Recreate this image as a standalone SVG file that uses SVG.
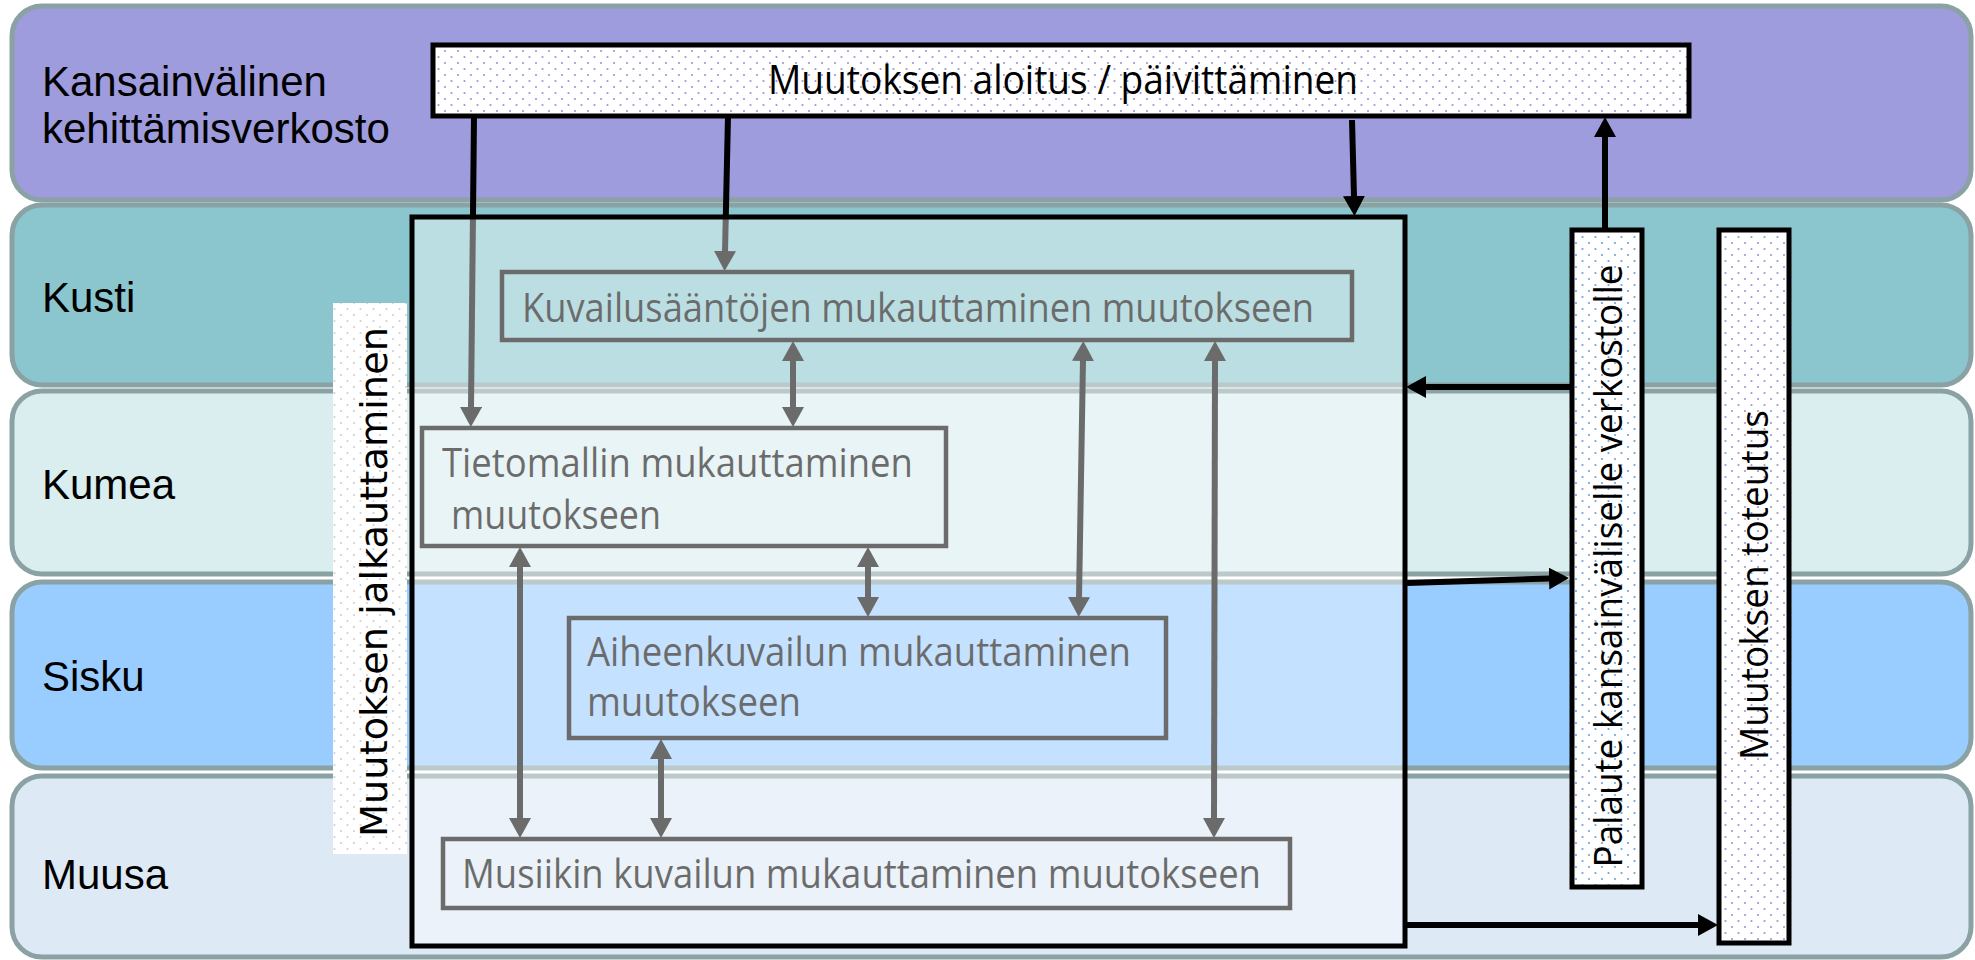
<svg xmlns="http://www.w3.org/2000/svg" width="1975" height="960" viewBox="0 0 1975 960">
<style>
.lane{stroke:#8AA2A4;stroke-width:5}
.lbl{font-family:"Liberation Sans",Arial,sans-serif;font-size:42px;fill:#000}
.cal{font-family:"Open Sans","Noto Sans",sans-serif;font-size:40px;fill:#000}
.vt{font-family:"Open Sans","Noto Sans",sans-serif;font-size:38px;fill:#000}
.inner{fill:none;stroke:#000;stroke-width:4.5}
.bk{fill:none;stroke:#000;stroke-width:6}
.gy{fill:none;stroke:#000;stroke-width:6}
.outer{stroke:#000;stroke-width:5}
</style>
<defs>
<pattern id="dotsPurple" width="13" height="12" patternUnits="userSpaceOnUse"><rect width="13" height="12" fill="#fff"/><circle cx="3" cy="3" r="1.1" fill="#9A98D6"/><circle cx="9.5" cy="9" r="1.1" fill="#9A98D6"/></pattern>
<pattern id="dotsBlue" width="13" height="12" patternUnits="userSpaceOnUse"><rect width="13" height="12" fill="#fff"/><circle cx="3" cy="3" r="1.1" fill="#6FA3DA"/><circle cx="9.5" cy="9" r="1.1" fill="#6FA3DA"/></pattern>
<pattern id="dotsGray" width="13" height="12" patternUnits="userSpaceOnUse"><rect width="13" height="12" fill="#fff"/><circle cx="3" cy="3" r="1.1" fill="#D0D0D0"/><circle cx="9.5" cy="9" r="1.1" fill="#D0D0D0"/></pattern>
<marker id="ah" viewBox="0 0 20 22" markerWidth="20" markerHeight="22" refX="1" refY="11" orient="auto-start-reverse" markerUnits="userSpaceOnUse"><path d="M0,0 L20,11 L0,22 z" fill="#000"/></marker>
</defs>

<g id="lanes">
<g id="lane-kansainvalinen"><rect class="lane" x="12" y="6" width="1959" height="194" rx="30" fill="#9E9CDC"/><text class="lbl" x="42" y="96">Kansainvälinen</text><text class="lbl" x="42" y="143">kehittämisverkosto</text></g>
<g id="lane-kusti"><rect class="lane" x="12" y="205" width="1959" height="180" rx="30" fill="#8BC6CE"/><text class="lbl" x="42" y="312">Kusti</text></g>
<g id="lane-kumea"><rect class="lane" x="12" y="391" width="1959" height="183" rx="30" fill="#DAEDEF"/><text class="lbl" x="42" y="499">Kumea</text></g>
<g id="lane-sisku"><rect class="lane" x="12" y="582" width="1959" height="186" rx="30" fill="#99CCFF"/><text class="lbl" x="42" y="691">Sisku</text></g>
<g id="lane-muusa"><rect class="lane" x="12" y="776" width="1959" height="181" rx="30" fill="#DDE9F5"/><text class="lbl" x="42" y="889">Muusa</text></g>
</g>

<g id="node-kuvailu"><rect class="inner" x="502" y="272" width="850" height="68"/><text class="cal" x="522" y="322" textLength="792" lengthAdjust="spacingAndGlyphs">Kuvailusääntöjen mukauttaminen muutokseen</text></g>
<g id="node-tietomalli"><rect class="inner" x="422" y="428" width="524" height="118"/><text class="cal" x="442" y="477" textLength="471" lengthAdjust="spacingAndGlyphs">Tietomallin mukauttaminen</text><text class="cal" x="451" y="529" textLength="210" lengthAdjust="spacingAndGlyphs">muutokseen</text></g>
<g id="node-aiheenkuvailu"><rect class="inner" x="569" y="618" width="597" height="120"/><text class="cal" x="587" y="666" textLength="544" lengthAdjust="spacingAndGlyphs">Aiheenkuvailun mukauttaminen</text><text class="cal" x="587" y="716" textLength="214" lengthAdjust="spacingAndGlyphs">muutokseen</text></g>
<g id="node-musiikki"><rect class="inner" x="443" y="839" width="847" height="69"/><text class="cal" x="462" y="888" textLength="799" lengthAdjust="spacingAndGlyphs">Musiikin kuvailun mukauttaminen muutokseen</text></g>

<g id="connectors">
<path class="bk" d="M474,116 L471,408" marker-end="url(#ah)"/>
<path class="bk" d="M728,116 L725,252" marker-end="url(#ah)"/>
<path class="gy" d="M793,360 L793,408" marker-start="url(#ah)" marker-end="url(#ah)"/>
<path class="gy" d="M1083,360 L1079,598" marker-start="url(#ah)" marker-end="url(#ah)"/>
<path class="gy" d="M1215,360 L1214,819" marker-start="url(#ah)" marker-end="url(#ah)"/>
<path class="gy" d="M868,566 L868,598" marker-start="url(#ah)" marker-end="url(#ah)"/>
<path class="gy" d="M520,566 L520,819" marker-start="url(#ah)" marker-end="url(#ah)"/>
<path class="gy" d="M661,758 L661,819" marker-start="url(#ah)" marker-end="url(#ah)"/>
</g>

<g id="node-jalkauttaminen-container"><rect x="412" y="217" width="993" height="729" fill="#fff" fill-opacity="0.42" stroke="#000" stroke-width="5"/></g>

<g id="node-aloitus"><rect class="outer" x="433" y="45" width="1256" height="71" fill="url(#dotsPurple)"/><text class="cal" x="1063" y="94" text-anchor="middle" textLength="590" lengthAdjust="spacingAndGlyphs">Muutoksen aloitus / päivittäminen</text></g>
<g id="node-jalkauttaminen"><rect x="333" y="303" width="74" height="551" fill="url(#dotsGray)"/><text x="387" y="582" transform="rotate(-90 387 582)" text-anchor="middle" font-family="DejaVu Sans, Verdana, sans-serif" font-size="38" textLength="510" lengthAdjust="spacingAndGlyphs">Muutoksen jalkauttaminen</text></g>
<g id="node-palaute"><rect class="outer" x="1572" y="230" width="70" height="657" fill="url(#dotsBlue)"/><text class="vt" x="1622" y="566" transform="rotate(-90 1622 566)" text-anchor="middle" textLength="603" lengthAdjust="spacingAndGlyphs">Palaute kansainväliselle verkostolle</text></g>
<g id="node-toteutus"><rect class="outer" x="1719" y="230" width="70" height="713" fill="url(#dotsPurple)"/><text class="vt" x="1768" y="585" transform="rotate(-90 1768 585)" text-anchor="middle" textLength="350" lengthAdjust="spacingAndGlyphs">Muutoksen toteutus</text></g>

<g id="connectors-outer">
<path class="bk" d="M1352,120 L1354,197" marker-end="url(#ah)"/>
<path class="bk" d="M1605,230 L1605,136" marker-end="url(#ah)"/>
<path class="bk" d="M1572,387 L1425,387" marker-end="url(#ah)"/>
<path class="bk" d="M1407,583 L1550,578.5" marker-end="url(#ah)"/>
<path class="bk" d="M1407,925 L1699,925" marker-end="url(#ah)"/>
</g>
</svg>
